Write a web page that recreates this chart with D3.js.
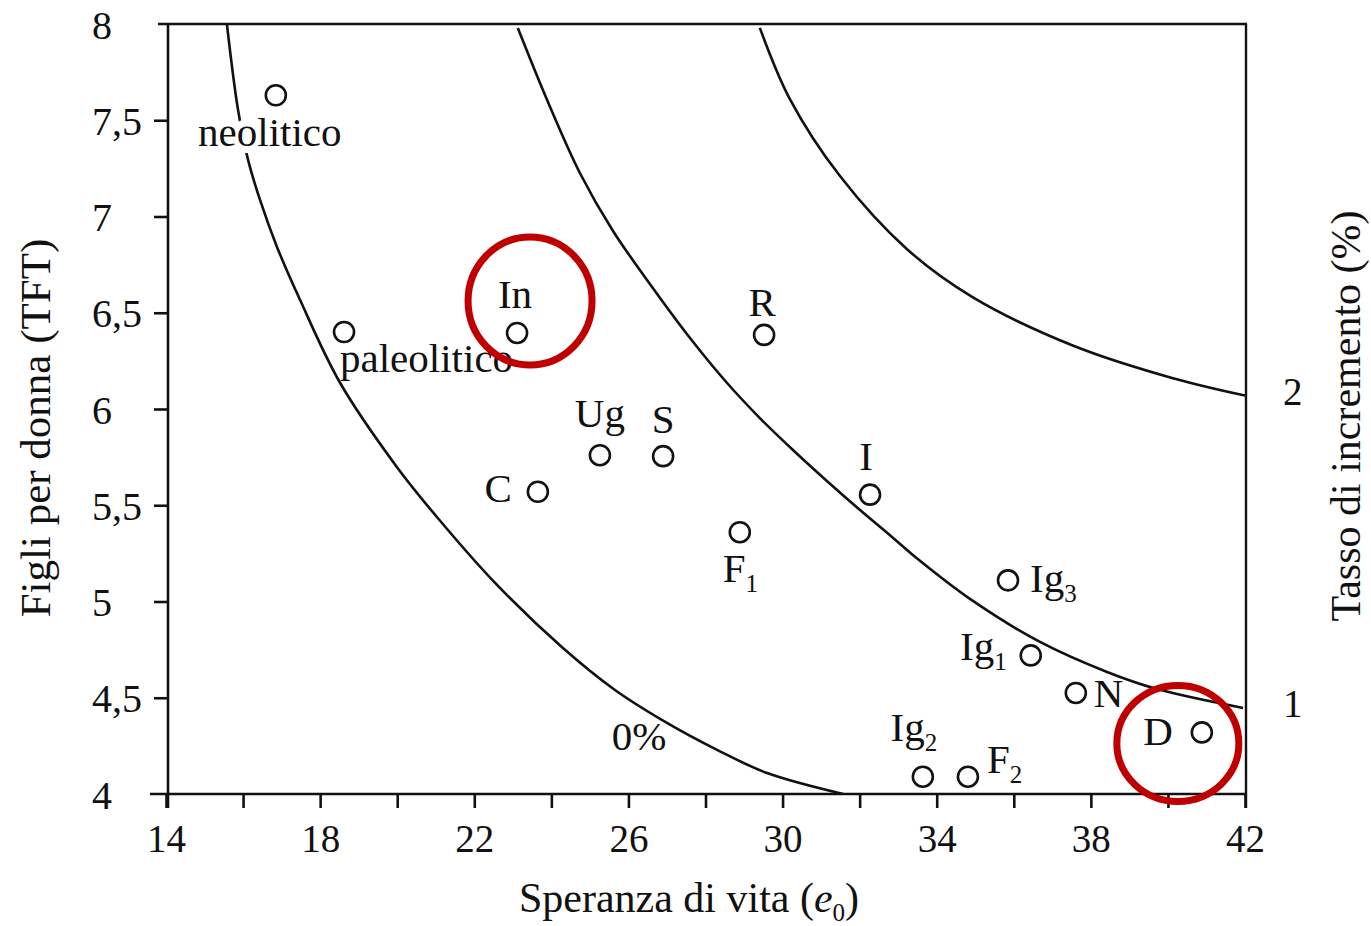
<!DOCTYPE html>
<html>
<head>
<meta charset="utf-8">
<script src="https://cdn.jsdelivr.net/npm/d3@7"></script>
<style>
  body { margin: 0; background: #fff; }
  svg text { font-family: "Liberation Serif", "DejaVu Serif", serif; fill: #111; }
</style>
</head>
<body>
<svg id="chart" width="1371" height="926"></svg>
<script>
// populations: life expectancy (e0) and total fertility (TFT)
var names = ["neolitico", "paleolitico", "In", "R", "Ug", "S", "C", "I", "F", "Ig", "Ig", "N", "D", "Ig", "F"];
var subs  = ["", "", "", "", "", "", "", "", "1", "3", "1", "", "", "2", "2"];
var lifeExp = [16.85, 18.62, 23.11, 29.52, 25.26, 26.90, 23.65, 32.27, 28.89, 35.85, 36.44, 37.61, 40.88, 33.64, 34.81];
var fertility = [7.63, 6.40, 6.395, 6.385, 5.76, 5.755, 5.57, 5.555, 5.36, 5.11, 4.72, 4.525, 4.32, 4.09, 4.09];

// iso growth-rate curves as [e0, TFT]
var curve0 = [[15.58, 8.0], [15.87, 7.553], [16.13, 7.294], [16.44, 7.086], [16.88, 6.842], [17.48, 6.566],
              [18.52, 6.135], [19.99, 5.699], [21.03, 5.439], [22.59, 5.086], [24.30, 4.758], [25.65, 4.540],
              [27.0, 4.369], [28.30, 4.229], [29.60, 4.109], [31.57, 4.0]];
var curve1 = [[23.13, 7.979], [23.89, 7.605], [24.74, 7.226], [25.60, 6.925], [26.82, 6.577], [27.68, 6.348],
              [28.56, 6.135], [29.41, 5.953], [30.27, 5.787], [31.15, 5.626], [32.01, 5.475], [32.87, 5.330],
              [33.38, 5.242], [34.94, 5.003], [36.68, 4.790], [38.42, 4.634], [39.72, 4.545], [41.95, 4.447]];
var curve2 = [[29.41, 7.98], [30.19, 7.61], [31.49, 7.21], [33.23, 6.83], [34.94, 6.58], [37.53, 6.33], [40.13, 6.16], [42.0, 6.07]];
var curves = [curve0, curve1, curve2];

var xTicks = d3.range(14, 43, 2);
var xTickLabels = [14, 18, 22, 26, 30, 34, 38, 42];
var yTicks = [4, 4.5, 5, 5.5, 6, 6.5, 7, 7.5, 8];
var rateLabels = ["1", "2"];
var rateAt = [4.45, 6.07];   // TFT where the 1% and 2% curves meet e0 = 42

var highlighted = ["In", "D"];

// label placement around each point: [anchor, dx, dy]
var labelPlace = [
	["middle", -6, 51], ["start", -4, 40], ["middle", -2, -25], ["middle", -2, -19],
	["middle", 0, -28], ["middle", 0, -23], ["end", -26, 10], ["middle", -4, -25],
	["start", -17, 50], ["start", 22, 12], ["end", -24, 5], ["start", 18, 14],
	["end", -29, 13], ["middle", -9, -36], ["start", 19, -4]
];

var svg = d3.select("#chart");

var x = d3.scaleLinear().domain([14, 42]).range([166, 1245]);
var y = d3.scaleLinear().domain([4, 8]).range([794, 24]);

var ink = "#111";

// frame: top and right lines
svg.append("line").attr("x1", 158).attr("x2", x(42) + 2).attr("y1", y(8)).attr("y2", y(8))
	.attr("stroke", ink).attr("stroke-width", 2.6);
svg.append("line").attr("x1", x(42) + 1).attr("x2", x(42) + 1).attr("y1", y(8)).attr("y2", y(4) + 14)
	.attr("stroke", ink).attr("stroke-width", 2.4);

// bottom axis
var xAxis = d3.axisBottom(x).tickValues(xTicks).tickSize(14)
	.tickFormat(function(d) { return xTickLabels.indexOf(d) >= 0 ? d : ""; });
var gx = svg.append("g").attr("transform", "translate(0," + y(4) + ")").call(xAxis);
gx.select(".domain").remove();
gx.selectAll(".tick line").attr("stroke", ink).attr("stroke-width", 2.6);
gx.selectAll(".tick text").attr("font-size", 39).attr("dy", "1.05em").attr("fill", ink)
	.style("font-family", "Liberation Serif");
svg.append("line").attr("x1", 150).attr("x2", x(42) + 2).attr("y1", y(4)).attr("y2", y(4))
	.attr("stroke", ink).attr("stroke-width", 2.6);

// left axis
var yAxis = d3.axisLeft(y).tickValues(yTicks).tickSize(14)
	.tickFormat(function(d) { return String(d).replace(".", ","); });
var gy = svg.append("g").attr("transform", "translate(" + (x(14) + 2) + ",0)").call(yAxis);
gy.select(".domain").remove();
gy.selectAll(".tick line").attr("stroke", ink).attr("stroke-width", 2.6)
	.attr("display", function(d) { return d === 4 || d === 8 ? "none" : null; });
gy.selectAll(".tick text").attr("font-size", 40).attr("fill", ink)
	.attr("text-anchor", "start").attr("x", 92 - (x(14) + 2)).attr("dy", "0.35em")
	.style("font-family", "Liberation Serif");
svg.append("line").attr("x1", x(14) + 2).attr("x2", x(14) + 2).attr("y1", y(8)).attr("y2", y(4) + 14)
	.attr("stroke", ink).attr("stroke-width", 2.6);

// right axis labels (growth rate)
svg.selectAll(".rate").data(rateLabels).enter().append("text")
	.attr("class", "rate")
	.attr("x", x(42) + 38)
	.attr("y", function(d, i) { return y(rateAt[i]) - 4; })
	.attr("dy", "0.35em")
	.attr("font-size", 39)
	.text(function(d) { return d; });

// iso-growth curves
svg.append("clipPath").attr("id", "plotClip").append("rect")
	.attr("x", x(14)).attr("y", y(8)).attr("width", x(42) - x(14)).attr("height", y(4) - y(8));

var line = d3.line()
	.x(function(d) { return x(d[0]); })
	.y(function(d) { return y(d[1]); })
	.curve(d3.curveCatmullRom.alpha(0.5));

svg.append("g").attr("clip-path", "url(#plotClip)")
	.selectAll("path").data(curves).enter().append("path")
	.attr("d", line)
	.attr("fill", "none")
	.attr("stroke", ink)
	.attr("stroke-width", 2.6);

svg.append("text").attr("x", x(25.57)).attr("y", y(4.229)).attr("font-size", 41).text("0%");

// points
var pts = svg.append("g");
pts.selectAll("circle").data(names).enter().append("circle")
	.attr("cx", function(d, i) { return x(lifeExp[i]); })
	.attr("cy", function(d, i) { return y(fertility[i]); })
	.attr("r", 10)
	.attr("fill", "#fff")
	.attr("stroke", ink)
	.attr("stroke-width", 2.6);

var lbl = svg.append("g").selectAll("text").data(names).enter().append("text")
	.attr("x", function(d, i) { return x(lifeExp[i]) + labelPlace[i][1]; })
	.attr("y", function(d, i) { return y(fertility[i]) + labelPlace[i][2]; })
	.attr("text-anchor", function(d, i) { return labelPlace[i][0]; })
	.attr("font-size", 41);
lbl.each(function(d, i) {
	var t = d3.select(this);
	if (d === "neolitico") {
		t.attr("stroke", "#fff").attr("stroke-width", 14).attr("paint-order", "stroke");
	}
	t.append("tspan").text(d);
	if (subs[i]) {
		t.append("tspan").attr("font-size", 25).attr("dy", 10).text(subs[i]);
	}
});

// red highlight rings
var ringPlace = { "In": [13, -32, 62, 64], "D": [-24, 11, 61, 58] };
svg.append("g").selectAll("ellipse").data(highlighted).enter().append("ellipse")
	.attr("cx", function(d) { var i = names.indexOf(d); return x(lifeExp[i]) + ringPlace[d][0]; })
	.attr("cy", function(d) { var i = names.indexOf(d); return y(fertility[i]) + ringPlace[d][1]; })
	.attr("rx", function(d) { return ringPlace[d][2]; })
	.attr("ry", function(d) { return ringPlace[d][3]; })
	.attr("fill", "none")
	.attr("stroke", "#c00000")
	.attr("stroke-width", 7);

// axis titles
var xt = svg.append("text").attr("x", 689).attr("y", 912).attr("text-anchor", "middle").attr("font-size", 42);
xt.append("tspan").text("Speranza di vita (");
xt.append("tspan").attr("font-style", "italic").text("e");
xt.append("tspan").attr("font-size", 25).attr("dy", 9).text("0");
xt.append("tspan").attr("dy", -9).text(")");

svg.append("text").attr("transform", "translate(50,428) rotate(-90)")
	.attr("text-anchor", "middle").attr("font-size", 43).text("Figli per donna (TFT)");

svg.append("text").attr("transform", "translate(1360,416) rotate(-90)")
	.attr("text-anchor", "middle").attr("font-size", 42).text("Tasso di incremento (%)");
</script>
</body>
</html>
